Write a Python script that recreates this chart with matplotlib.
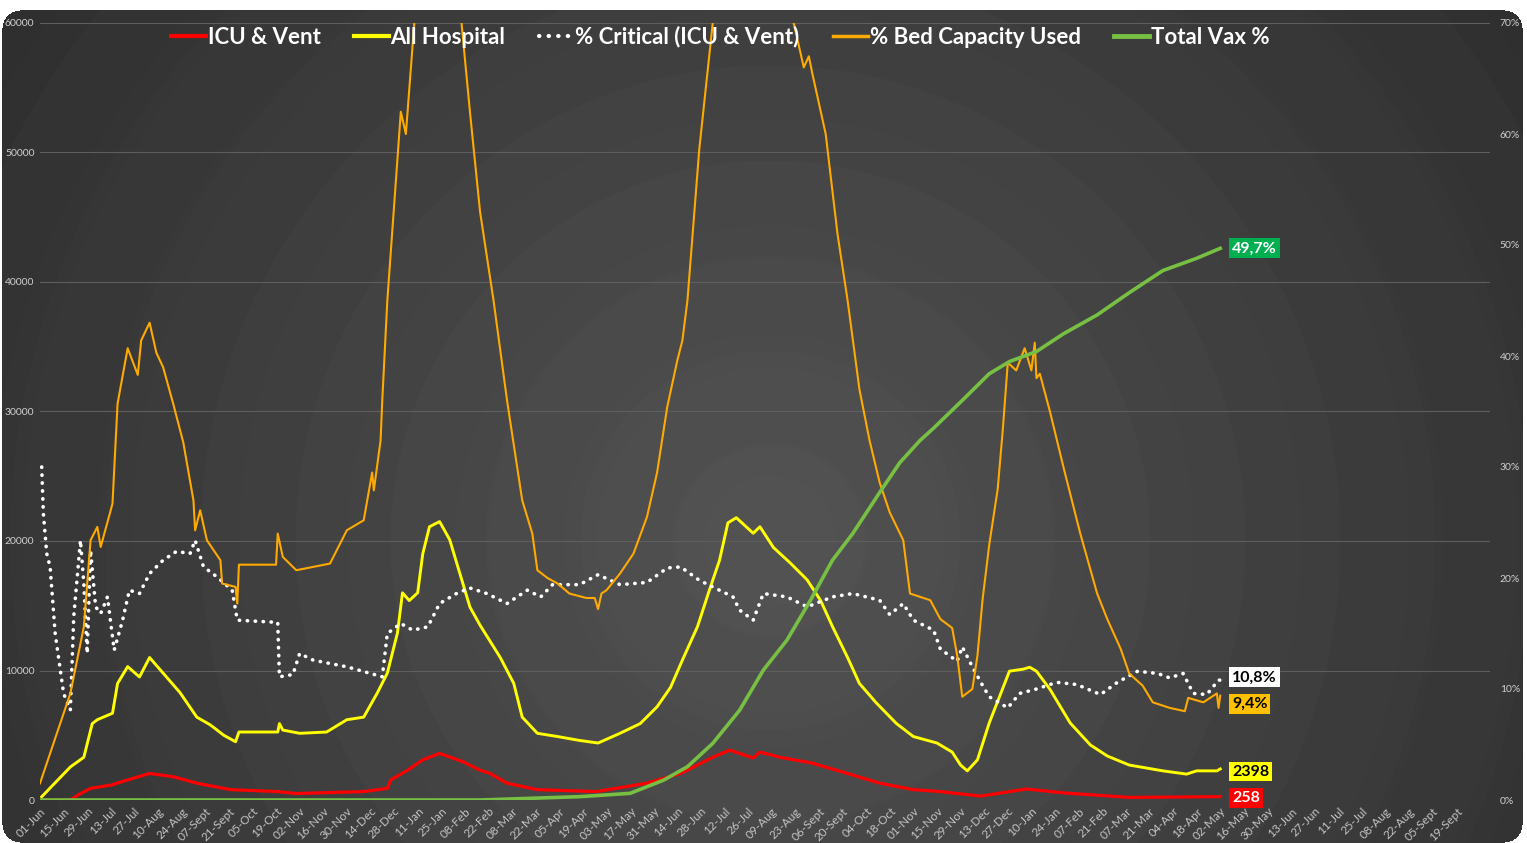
import numpy as np
import matplotlib
matplotlib.use("Agg")
import matplotlib.pyplot as plt
from matplotlib.lines import Line2D

plt.rcParams['font.family'] = ['Lato', 'DejaVu Sans']

# x positions are days since 01-Jun-2020
TICK_LABELS = ["01-Jun", "15-Jun", "29-Jun", "13-Jul", "27-Jul", "10-Aug", "24-Aug", "07-Sept",
               "21-Sept", "05-Oct", "19-Oct", "02-Nov", "16-Nov", "30-Nov", "14-Dec", "28-Dec",
               "11-Jan", "25-Jan", "08-Feb", "22-Feb", "08-Mar", "22-Mar", "05-Apr", "19-Apr",
               "03-May", "17-May", "31-May", "14-Jun", "28-Jun", "12-Jul", "26-Jul", "09-Aug",
               "23-Aug", "06-Sept", "20-Sept", "04-Oct", "18-Oct", "01-Nov", "15-Nov", "29-Nov",
               "13-Dec", "27-Dec", "10-Jan", "24-Jan", "07-Feb", "21-Feb", "07-Mar", "21-Mar",
               "04-Apr", "18-Apr", "02-May", "16-May", "30-May", "13-Jun", "27-Jun", "11-Jul",
               "25-Jul", "08-Aug", "22-Aug", "05-Sept", "19-Sept"]

# ICU & Vent (left axis, patients)
icu_day = [0, 18, 24, 30, 42, 52, 65, 79, 93, 113, 141, 152, 192, 206, 208, 218, 227, 237,
           251, 261, 267, 277, 295, 330, 360, 380, 399, 409, 423, 427, 439, 458, 479, 498,
           518, 534, 558, 585, 607, 646, 700]
icu_val = [0, 0, 500, 900, 1150, 1550, 2050, 1800, 1300, 800, 650, 500, 650, 900, 1550, 2300,
           3100, 3600, 2950, 2300, 2050, 1300, 800, 650, 1300, 2050, 3300, 3850, 3250, 3700,
           3300, 2850, 2050, 1300, 800, 650, 300, 850, 550, 200, 258]

# All Hospital (left axis, patients)
hosp_day = [1, 18, 26, 31, 34, 43, 46, 52, 59, 65, 73, 83, 93, 101, 109, 116, 118, 141, 142,
            144, 154, 170, 182, 192, 200, 206, 212, 215, 219, 224, 227, 231, 237, 243, 249,
            255, 261, 273, 281, 286, 295, 307, 320, 331, 344, 356, 366, 374, 381, 390, 397,
            403, 408, 413, 423, 427, 435, 445, 455, 463, 470, 479, 486, 496, 508, 518, 532,
            541, 546, 550, 556, 563, 569, 575, 583, 587, 591, 599, 611, 623, 633, 646, 666,
            680, 686, 698, 700]
hosp_val = [250, 2550, 3300, 5900, 6200, 6700, 9000, 10300, 9500, 11000, 9800, 8300, 6400,
            5800, 5000, 4500, 5250, 5250, 5900, 5400, 5150, 5250, 6200, 6400, 8250, 9800,
            12900, 16000, 15400, 16000, 19000, 21100, 21500, 20100, 17500, 14900, 13500,
            11000, 9000, 6400, 5150, 4900, 4600, 4400, 5150, 5900, 7200, 8700, 10800, 13400,
            16200, 18500, 21400, 21800, 20600, 21100, 19500, 18300, 17000, 15400, 13400,
            11000, 9000, 7500, 5900, 4900, 4400, 3700, 2700, 2250, 3100, 5950, 7950, 9950,
            10100, 10250, 9950, 8550, 5950, 4250, 3400, 2700, 2250, 2000, 2250, 2250, 2398]

# % Critical (ICU & Vent) (right axis, %)
crit_day = [1, 2, 4, 6, 9, 14, 18, 20, 24, 26, 28, 30, 33, 36, 40, 44, 49, 53, 59, 65, 73,
            81, 89, 92, 97, 105, 114, 117, 141, 142, 150, 154, 162, 182, 203, 206, 214, 221,
            230, 237, 247, 255, 265, 277, 289, 297, 304, 320, 331, 344, 360, 372, 380, 391,
            403, 411, 415, 423, 429, 443, 455, 470, 482, 498, 504, 512, 518, 530, 534, 544,
            547, 553, 558, 563, 574, 581, 591, 603, 615, 629, 639, 651, 663, 670, 678, 684,
            692, 699, 700]
crit_val = [30.0, 25.8, 22.2, 21.0, 15.0, 9.6, 8.1, 16.5, 23.4, 19.5, 13.2, 22.5, 17.4, 16.8,
            18.3, 13.5, 16.2, 18.9, 18.6, 20.4, 21.6, 22.4, 22.2, 23.4, 21.0, 20.1, 18.9, 16.2,
            16.0, 11.1, 11.3, 13.2, 12.6, 12.0, 11.1, 15.0, 15.9, 15.3, 15.6, 17.7, 18.6, 19.1,
            18.6, 17.7, 18.9, 18.3, 19.4, 19.4, 20.3, 19.4, 19.6, 20.9, 21.0, 19.8, 18.9, 18.3,
            17.1, 16.2, 18.6, 18.3, 17.4, 18.3, 18.6, 18.0, 16.7, 17.7, 16.2, 15.3, 13.6, 12.5,
            13.8, 12.0, 10.6, 9.3, 8.3, 9.6, 10.0, 10.6, 10.4, 9.5, 10.6, 11.6, 11.4, 11.0,
            11.4, 9.6, 9.5, 10.8, 10.8]

# % Bed Capacity Used (right axis, %) - peaks run off the top of the chart
bed_day = [0, 18, 26, 30, 34, 36, 43, 46, 52, 58, 60, 65, 69, 73, 79, 85, 91, 92, 95, 99, 107,
           108, 116, 117, 118, 140, 141, 144, 152, 162, 172, 182, 192, 197, 198, 202, 203, 206,
           214, 217, 222, 228, 240, 250, 255, 261, 269, 277, 283, 286, 292, 295, 301, 307, 314,
           324, 329, 331, 333, 336, 344, 352, 360, 366, 372, 378, 381, 384, 391, 399, 420, 440,
           447, 453, 456, 458, 466, 473, 479, 486, 492, 498, 504, 512, 516, 522, 528, 534, 541,
           544, 547, 553, 556, 559, 563, 568, 571, 574, 579, 584, 588, 590, 591, 593, 599, 607,
           617, 627, 633, 641, 646, 654, 660, 670, 679, 681, 690, 698, 699, 700]
bed_val = [1.5, 9.6, 15.6, 23.4, 24.6, 22.8, 26.7, 35.7, 40.7, 38.3, 41.4, 43.0, 40.3, 39.0,
           35.7, 32.2, 27.0, 24.3, 26.1, 23.4, 21.6, 19.5, 19.2, 17.7, 21.2, 21.2, 24.0, 21.9,
           20.7, 21.0, 21.3, 24.3, 25.2, 29.5, 27.9, 32.4, 36.0, 45.0, 62.0, 60.0, 70.0, 80.0,
           84.0, 70.0, 62.0, 53.0, 45.0, 36.0, 30.0, 27.0, 24.0, 20.7, 20.0, 19.5, 18.6, 18.2,
           18.2, 17.2, 18.6, 18.9, 20.4, 22.2, 25.5, 29.5, 35.4, 39.6, 41.4, 45.0, 58.6, 70.0,
           84.0, 82.0, 70.0, 66.0, 67.0, 65.5, 60.0, 51.0, 45.0, 37.0, 32.4, 28.6, 25.9, 23.4,
           18.6, 18.3, 18.0, 16.3, 15.5, 13.0, 9.3, 10.0, 13.0, 18.0, 23.0, 28.0, 33.3, 39.4,
           38.7, 40.7, 38.7, 41.2, 38.0, 38.4, 35.0, 30.0, 24.0, 18.6, 16.3, 13.6, 11.4, 10.3,
           8.8, 8.3, 8.0, 9.2, 8.8, 9.6, 8.3, 9.4]

# Total Vax % (right axis, %)
vax_day = [0, 261, 320, 350, 370, 384, 399, 415, 429, 443, 457, 470, 482, 498, 510, 522, 530,
           547, 563, 575, 591, 607, 627, 646, 666, 686, 700]
vax_val = [0, 0, 0.3, 0.6, 1.8, 3.0, 5.1, 8.1, 11.7, 14.4, 18.0, 21.6, 24.0, 27.7, 30.4, 32.4,
           33.5, 36.0, 38.4, 39.5, 40.4, 42.0, 43.7, 45.7, 47.7, 48.8, 49.7]

RED, YELLOW, ORANGE, GREEN, WHITE = "#ff0000", "#ffff00", "#ffaa00", "#77c043", "#ffffff"
W, H = 1527, 843

fig = plt.figure(figsize=(W / 100, H / 100), dpi=100, facecolor="white")

# dark rounded panel with a soft radial vignette (concentric bands)
bg = fig.add_axes([0, 0, 1, 1], zorder=-10)
yy, xx = np.mgrid[0:H, 0:W]
r = np.hypot(xx - 770, yy - 540)
v = 0.325 - 0.015 * np.floor(r / 95) - 0.005 * (r % 95) / 95
v = np.clip(v, 0.14, 1)
x0, x1, y0, y1, rad = 2, 1522, 10, 842, 18
dx = np.maximum(np.maximum(x0 + rad - xx, 0), xx - (x1 - rad))
dy = np.maximum(np.maximum(y0 + rad - yy, 0), yy - (y1 - rad))
inside = ((dx ** 2 + dy ** 2) <= rad ** 2) & (xx >= x0) & (xx <= x1) & (yy >= y0) & (yy <= y1)
img = np.dstack([v, v, v, inside.astype(float)])
bg.imshow(img, aspect="auto", extent=[0, W, H, 0], interpolation="bilinear")
bg.set_xlim(0, W); bg.set_ylim(H, 0); bg.axis("off")

ax = fig.add_axes([40 / W, 43 / H, 1450 / W, 777 / H])
ax.patch.set_visible(False)
ax2 = ax.twinx()

ax.plot(icu_day, icu_val, color=RED, lw=2.3, solid_joinstyle="round", zorder=3)
ax.plot(hosp_day, hosp_val, color=YELLOW, lw=2.1, solid_joinstyle="round", zorder=3)
ax2.plot(crit_day, crit_val, color=WHITE, lw=2.6, linestyle=(0, (0.1, 2.1)),
         dash_capstyle="round", zorder=3)
ax2.plot(bed_day, bed_val, color=ORANGE, lw=1.5, zorder=4)
ax2.plot(vax_day, vax_val, color=GREEN, lw=2.6, solid_joinstyle="round", zorder=5)

ax.set_xlim(0, 860)
ax.set_ylim(0, 60000)
ax2.set_ylim(0, 70)
ax.set_yticks(range(0, 60001, 10000))
ax.set_yticklabels([str(t) for t in range(0, 60001, 10000)])
ax2.set_yticks(range(0, 71, 10))
ax2.set_yticklabels([f"{t}%" for t in range(0, 71, 10)])
ax.set_xticks(range(0, 14 * len(TICK_LABELS), 14))
ax.set_xticklabels(TICK_LABELS, rotation=45, ha="right", va="top", rotation_mode="anchor")
ax.grid(axis="y", color="#5e5e5e", lw=0.8)
ax.set_axisbelow(True)
for a in (ax, ax2):
    for s in a.spines.values():
        s.set_visible(False)
ax.tick_params(axis="y", length=0, pad=4, labelsize=7.5, labelcolor="#cfcfcf")
ax.tick_params(axis="x", length=0, pad=4, labelsize=8.5, labelcolor="#c4c4c4")
ax2.tick_params(axis="y", length=0, pad=7, labelsize=7.5, labelcolor="#cfcfcf")

# end-of-series value tags
tags = [(ax2, vax_val[-1], 0, "49,7%", "#00b050", "white"),
        (ax2, crit_val[-1], 0.25, "10,8%", "white", "black"),
        (ax2, bed_val[-1], -0.75, "9,4%", "#ffc000", "black"),
        (ax, hosp_val[-1], -200, "2398", YELLOW, "black"),
        (ax, icu_val[-1], -120, "258", RED, "white")]
for a, yv, off, txt, fc, tc in tags:
    a.text(707, yv + off, txt, ha="left", va="center", fontsize=11.5, fontweight="bold",
           color=tc, zorder=10,
           bbox=dict(boxstyle="square,pad=0.18", fc=fc, ec="none"))

handles = [Line2D([], [], color=RED, lw=3),
           Line2D([], [], color=YELLOW, lw=3),
           Line2D([], [], color=WHITE, lw=3, linestyle=(0, (0.1, 2.2)), dash_capstyle="round"),
           Line2D([], [], color=ORANGE, lw=2.5),
           Line2D([], [], color=GREEN, lw=3.5)]
labels = ["ICU & Vent", "All Hospital", "% Critical (ICU & Vent)", "% Bed Capacity Used",
          "Total Vax %"]
leg = fig.legend(handles, labels, loc="center", ncol=5, frameon=False,
                 bbox_to_anchor=(720 / W, 1 - 37 / H), handlelength=1.6,
                 handletextpad=0.05, columnspacing=1.5,
                 prop=dict(family=["Lato", "DejaVu Sans"], weight="bold", size=16))
for t in leg.get_texts():
    t.set_color("white")

fig.savefig("out.png", dpi=100, facecolor="white")
